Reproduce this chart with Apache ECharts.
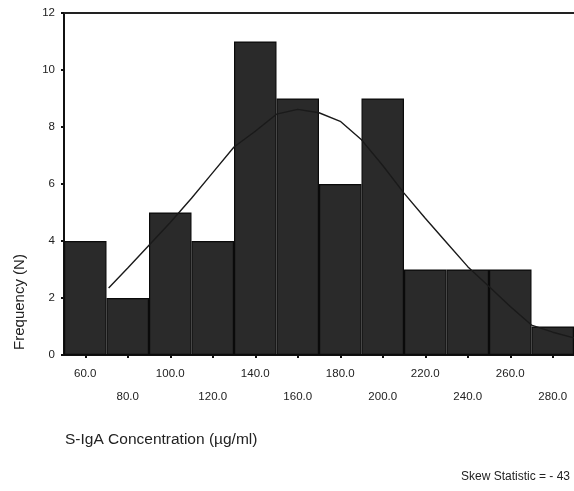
<!DOCTYPE html>
<html><head><meta charset="utf-8">
<script src="https://cdn.jsdelivr.net/npm/echarts@6/dist/echarts.min.js"></script>
<style>html,body{margin:0;padding:0;background:#fff}#c{width:574px;height:491px}</style>
</head><body><div id="c"></div>
<script>
const categories = ["60.0","80.0","100.0","120.0","140.0","160.0","180.0","200.0","220.0","240.0","260.0","280.0"];
const frequencies = [4,2,5,4,11,9,6,9,3,3,3,1];
const curveX = [71,80,90,100,110,120,130,140,150,160,170,180,190,200,210,220,230,240,250,260,270,280,290];
const curveY = [2.35,3.05,3.85,4.65,5.5,6.4,7.3,7.85,8.45,8.62,8.5,8.2,7.55,6.65,5.68,4.8,3.95,3.1,2.4,1.7,1.05,0.8,0.6];
const yTicks = {min:0, max:12, interval:2};
const xLabel = "S-IgA Concentration (µg/ml)";
const yLabel = "Frequency (N)";
const note = "Skew Statistic = - 43";

const chart = echarts.init(document.getElementById('c'));
const font = "Liberation Sans, Arial, sans-serif";
chart.setOption({
  animation:false,
  backgroundColor:'#fff',
  grid:{left:64, right:-3, top:13, bottom:136, containLabel:false},
  xAxis:[
    {type:'category', position:'bottom', data:categories, boundaryGap:true,
     axisLine:{show:true, lineStyle:{color:'#111', width:2}},
     axisTick:{show:true, alignWithLabel:true, length:3, lineStyle:{color:'#111', width:2}},
     axisLabel:{interval:0, margin:7, color:'#222', fontFamily:font, fontSize:11.5, lineHeight:23,
       formatter:(v,i)=> (i%2 ? '\n'+v : v)},
     splitLine:{show:false}},
    {type:'value', position:'top', min:50, max:290,
     axisLine:{show:true, onZero:false, lineStyle:{color:'#222', width:2}},
     axisTick:{show:false}, axisLabel:{show:false}, splitLine:{show:false}}
  ],
  yAxis:{type:'value', min:yTicks.min, max:yTicks.max, interval:yTicks.interval,
     axisLine:{show:true, lineStyle:{color:'#111', width:2}},
     axisTick:{show:true, length:3, lineStyle:{color:'#111', width:2}},
     axisLabel:{color:'#222', fontFamily:font, fontSize:11.5, margin:9},
     splitLine:{show:false}},
  series:[
    {type:'bar', xAxisIndex:0, data:frequencies, barCategoryGap:'0%',
     itemStyle:{color:'#2a2a2a', borderColor:'#0a0a0a', borderWidth:1.2}},
    {type:'line', xAxisIndex:1, data:curveX.map((x,i)=>[x,curveY[i]]), showSymbol:false, smooth:false,
     lineStyle:{color:'#1a1a1a', width:1.4}, z:5}
  ],
  graphic:[
    {type:'text', x:20, y:302, rotation:Math.PI/2,
     style:{text:yLabel, font:'15px '+font, fill:'#222', textAlign:'center', textVerticalAlign:'middle'}},
    {type:'text', x:65, y:440,
     style:{text:xLabel, font:'15.5px '+font, fill:'#222', textAlign:'left', textVerticalAlign:'middle'}},
    {type:'text', x:570, y:477,
     style:{text:note, font:'12px '+font, fill:'#222', textAlign:'right', textVerticalAlign:'middle'}}
  ]
});
</script></body></html>
